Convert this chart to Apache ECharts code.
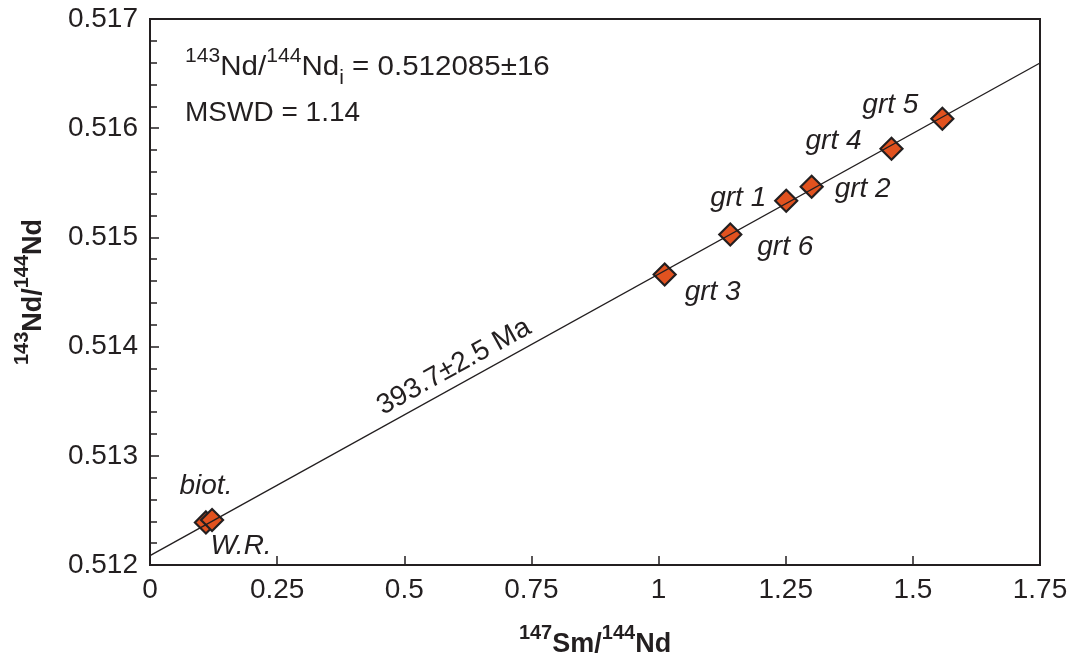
<!DOCTYPE html>
<html>
<head>
<meta charset="utf-8">
<title>Sm-Nd isochron</title>
<script src="https://cdn.jsdelivr.net/npm/echarts@6/dist/echarts.min.js"></script>
<style>
  html, body { margin: 0; padding: 0; background: #fff; }
  #chart { width: 1081px; height: 656px; }
</style>
</head>
<body>
<div id="chart"></div>
<script>
// sample names and measured ratios
var names = ['biot.', 'W.R.', 'grt 3', 'grt 6', 'grt 1', 'grt 2', 'grt 4', 'grt 5']
var smNd = [0.110, 0.122, 1.012, 1.141, 1.251, 1.301, 1.458, 1.558]
var ndNd = [0.512390, 0.512412, 0.514660, 0.515026, 0.515336, 0.515464, 0.515812, 0.516086]

// isochron end points
var isoX = [0, 1.75]
var isoY = [0.512085, 0.516597]

// axis ticks
var xTicks = [0, 0.25, 0.5, 0.75, 1, 1.25, 1.5, 1.75]
var yTicks = ['0.512', '0.513', '0.514', '0.515', '0.516', '0.517']

// where each sample name sits relative to its marker (px)
var labelOffsets = [[0, -36], [29, 26], [48, 18], [55, 13], [-48, -3], [51, 2], [-58, -8], [-52, -14]]

var FONT = 'Liberation Sans, Arial, Helvetica, sans-serif'
var INK = '#231f20'

var myChart = echarts.init(document.getElementById('chart'))

var points = []
for (var i = 0; i < names.length; i++) {
  points.push({
    name: names[i],
    value: [smNd[i], ndNd[i]],
    label: { offset: labelOffsets[i] }
  })
}

var axisNameRich = {
  sup: { fontSize: 20, fontWeight: 'bold', fontFamily: FONT, color: INK, lineHeight: 20, verticalAlign: 'top' },
  b: { fontSize: 27, fontWeight: 'bold', fontFamily: FONT, color: INK, lineHeight: 35, verticalAlign: 'bottom' }
}

var option = {
  animation: false,
  backgroundColor: '#fff',
  grid: {
    left: 150, right: 41, top: 19, bottom: 91,
    outerBoundsMode: 'none',
    containLabel: false,
    show: true, borderColor: INK, borderWidth: 2, backgroundColor: 'transparent'
  },
  xAxis: {
    type: 'value',
    min: xTicks[0],
    max: xTicks[xTicks.length - 1],
    interval: 0.25,
    name: '{sup|147}{b|Sm/}{sup|144}{b|Nd}',
    nameLocation: 'middle',
    nameGap: 58,
    nameTextStyle: { rich: axisNameRich },
    axisLine: { lineStyle: { color: INK, width: 2 } },
    axisTick: { inside: true, length: 9, lineStyle: { color: INK, width: 1.5 } },
    axisLabel: { fontSize: 28, fontFamily: FONT, color: INK, margin: 11 },
    splitLine: { show: false }
  },
  yAxis: {
    type: 'value',
    min: 0.512,
    max: 0.517,
    interval: 0.001,
    name: '{sup|143}{b|Nd/}{sup|144}{b|Nd}',
    nameLocation: 'middle',
    nameGap: 103,
    nameTextStyle: { rich: axisNameRich },
    axisLine: { lineStyle: { color: INK, width: 2 } },
    axisTick: { inside: true, length: 9, lineStyle: { color: INK, width: 1.5 } },
    minorTick: { show: true, splitNumber: 5, length: 7, lineStyle: { color: INK, width: 1.5 } },
    axisLabel: {
      fontSize: 28, fontFamily: FONT, color: INK, margin: 12,
      formatter: function (v) {
        return yTicks[Math.round((v - 0.512) / 0.001)]
      }
    },
    splitLine: { show: false },
    minorSplitLine: { show: false }
  },
  series: [
    {
      name: 'samples',
      type: 'scatter',
      symbol: 'diamond',
      symbolSize: 22,
      z: 2,
      itemStyle: { color: '#e1521f', borderColor: INK, borderWidth: 2.2, opacity: 1 },
      label: {
        show: true,
        position: 'inside',
        formatter: '{b}',
        fontSize: 28,
        fontStyle: 'italic',
        fontFamily: FONT,
        color: INK
      },
      emphasis: { disabled: true },
      data: points
    },
    {
      name: 'isochron',
      type: 'line',
      z: 3,
      symbol: 'none',
      lineStyle: { color: INK, width: 1.4 },
      data: [[isoX[0], isoY[0]], [isoX[1], isoY[1]]]
    }
  ]
}

myChart.setOption(option)

// age label along the isochron
var ax = 0.615
var ay = isoY[0] + (isoY[1] - isoY[0]) * (ax - isoX[0]) / (isoX[1] - isoX[0])
var p = myChart.convertToPixel({ gridIndex: 0 }, [ax, ay])
var p1 = myChart.convertToPixel({ gridIndex: 0 }, [isoX[0], isoY[0]])
var p2 = myChart.convertToPixel({ gridIndex: 0 }, [isoX[1], isoY[1]])
var ang = Math.atan2(p1[1] - p2[1], p2[0] - p1[0])
var gap = 18

myChart.setOption({
  graphic: [
    {
      type: 'text',
      x: p[0] - gap * Math.sin(ang),
      y: p[1] - gap * Math.cos(ang),
      rotation: ang,
      style: {
        text: '393.7±2.5 Ma',
        fontSize: 28, fontFamily: FONT, fill: INK,
        align: 'center', verticalAlign: 'middle'
      }
    },
    {
      type: 'text',
      left: 185, top: 46,
      scaleX: 1.055,
      style: {
        text: '{sup|143}{m|Nd/}{sup|144}{m|Nd}{sub|i}{m| = 0.512085±16}',
        rich: {
          sup: { fontSize: 20, fontFamily: FONT, fill: INK, lineHeight: 24, verticalAlign: 'top' },
          sub: { fontSize: 20, fontFamily: FONT, fill: INK, lineHeight: 8, verticalAlign: 'bottom' },
          m: { fontSize: 28, fontFamily: FONT, fill: INK, lineHeight: 42, verticalAlign: 'middle' }
        }
      }
    },
    {
      type: 'text',
      left: 185, top: 99,
      style: {
        text: 'MSWD = 1.14',
        fontSize: 28, fontFamily: FONT, fill: INK
      }
    }
  ]
})
</script>
</body>
</html>
